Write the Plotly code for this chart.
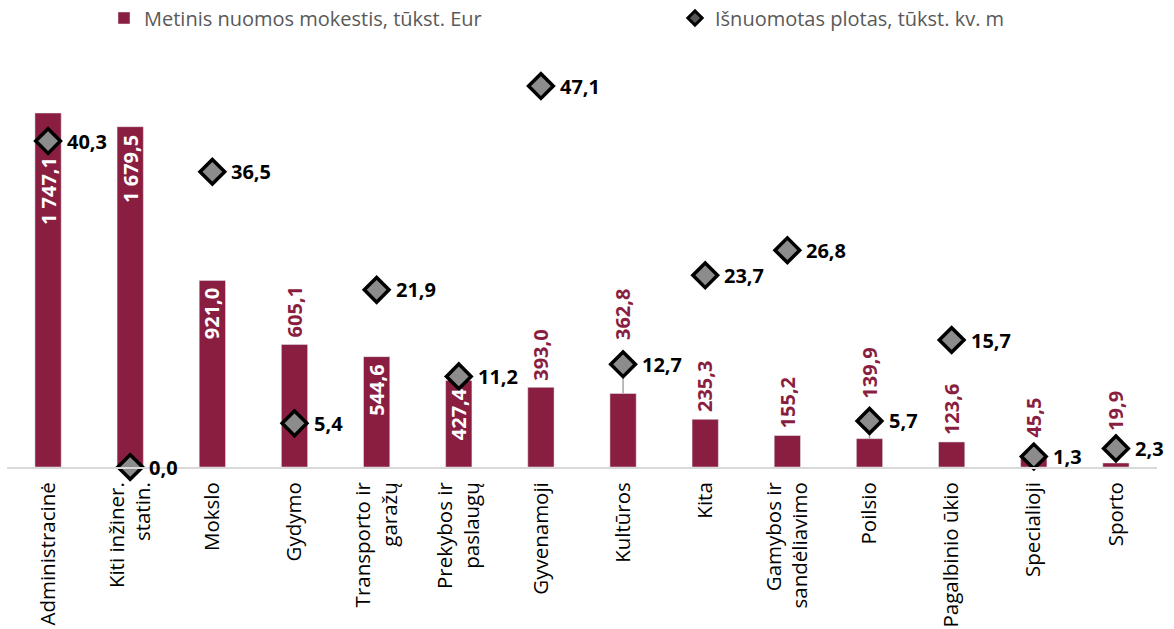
import plotly.graph_objects as go

categories = ["Administracinė", "Kiti inžiner.<br>statin.", "Mokslo", "Gydymo",
              "Transporto ir<br>garažų", "Prekybos ir<br>paslaugų", "Gyvenamoji",
              "Kultūros", "Kita", "Gamybos ir<br>sandėliavimo", "Poilsio",
              "Pagalbinio ūkio", "Specialioji", "Sporto"]
rent = [1747.1, 1679.5, 921.0, 605.1, 544.6, 427.4, 393.0, 362.8, 235.3, 155.2,
        139.9, 123.6, 45.5, 19.9]
area = [40.3, 0.0, 36.5, 5.4, 21.9, 11.2, 47.1, 12.7, 23.7, 26.8, 5.7, 15.7, 1.3, 2.3]
label_inside = [True, True, True, False, True, True, False, False, False, False,
                False, False, False, False]
leader_cats = ["Kultūros", "Poilsio", "Sporto"]
# pixel offsets of bar value labels (style only)
label_shift = {"Administracinė": -42, "Kultūros": 51, "Poilsio": 38,
               "Specialioji": 18, "Sporto": 30}

MAROON = "#8A1E41"
FONT = "Open Sans"
R1 = 1959.3
R2 = 49.08

fig = go.Figure()
fig.add_trace(go.Bar(
    x=categories, y=rent, name="Metinis nuomos mokestis, tūkst. Eur",
    marker=dict(color=MAROON), width=0.32, legend="legend",
))

# leader lines from bar top to diamond
for c in leader_cats:
    i = categories.index(c)
    fig.add_trace(go.Scatter(
        x=[c, c], y=[rent[i] * R2 / R1, area[i]], yaxis="y2", mode="lines",
        line=dict(color="#A6A6A6", width=1.5), showlegend=False, hoverinfo="skip",
    ))

fig.add_trace(go.Scatter(
    x=categories, y=area, yaxis="y2", mode="markers",
    name="Išnuomotas plotas, tūkst. kv. m",
    marker=dict(symbol="diamond", size=19, color="#8C8C8C",
                line=dict(color="black", width=3.5)),
    cliponaxis=False, showlegend=False,
))
# legend entry (small black diamond)
fig.add_trace(go.Scatter(
    x=[None], y=[None], yaxis="y2", mode="markers",
    name="Išnuomotas plotas, tūkst. kv. m",
    marker=dict(symbol="diamond", size=11, color="#555555",
                line=dict(color="black", width=3)),
    legend="legend2",
))

annotations = []
for i, (c, v) in enumerate(zip(categories, rent)):
    txt = f"{v:,.1f}".replace(",", " ").replace(".", ",")
    if label_inside[i]:
        annotations.append(dict(
            x=c, y=v, xref="x", yref="y", text=txt, textangle=-90,
            showarrow=False, yanchor="top", yshift=label_shift.get(c, -6),
            font=dict(family=FONT, size=20, color="white", weight="bold")))
    else:
        annotations.append(dict(
            x=c, y=v, xref="x", yref="y", text=txt, textangle=-90,
            showarrow=False, yanchor="bottom", yshift=label_shift.get(c, 5),
            font=dict(family=FONT, size=20, color=MAROON, weight="bold")))

for c, v in zip(categories, area):
    annotations.append(dict(
        x=c, y=v, xref="x", yref="y2", text=f"{v:.1f}".replace(".", ","),
        showarrow=False, xanchor="left", yanchor="middle", xshift=17,
        font=dict(family=FONT, size=20, color="black", weight="bold")))

fig.update_layout(
    width=1174, height=629,
    margin=dict(l=7, r=17, t=70, b=162, autoexpand=False),
    paper_bgcolor="white", plot_bgcolor="white",
    font=dict(family=FONT, color="#000000"),
    separators=", ",
    xaxis=dict(showline=True, linecolor="#D9D9D9", linewidth=2, ticks="",
               range=[-0.5, len(categories) - 0.5], ticklabelstandoff=5,
               tickangle=-90, tickfont=dict(family=FONT, size=20.5, color="#000000"),
               showgrid=False, automargin=False),
    yaxis=dict(range=[0, R1], visible=False, showgrid=False, zeroline=False),
    yaxis2=dict(range=[0, R2], overlaying="y", visible=False, showgrid=False,
                zeroline=False),
    legend=dict(orientation="h", xref="container", yref="container",
                x=104 / 1174, y=1 - 18 / 629, xanchor="left", yanchor="middle",
                font=dict(family=FONT, size=20, color="#595959")),
    legend2=dict(orientation="h", xref="container", yref="container",
                 x=675 / 1174, y=1 - 18 / 629, xanchor="left", yanchor="middle",
                 font=dict(family=FONT, size=20, color="#595959")),
    annotations=annotations,
    showlegend=True,
)

fig.write_html("out.html", config={"displayModeBar": False},
               post_script="document.body.style.margin='0';")
